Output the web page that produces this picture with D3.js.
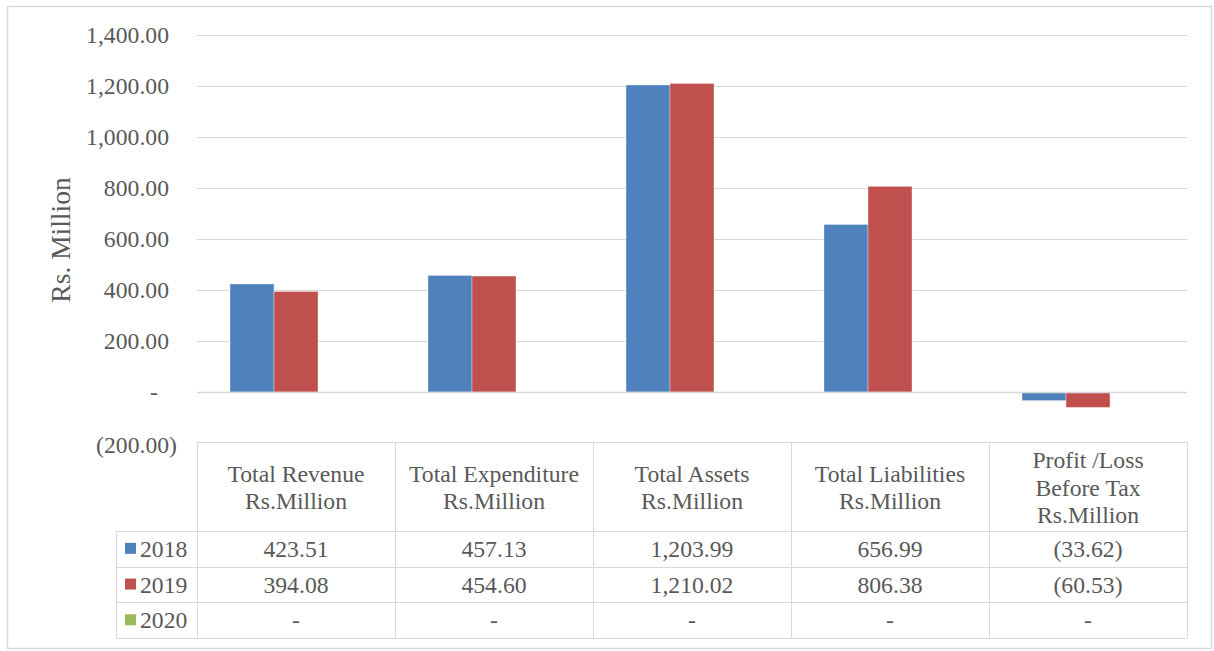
<!DOCTYPE html>
<html>
<head>
<meta charset="utf-8">
<script src="https://cdn.jsdelivr.net/npm/d3@7"></script>
<style>
html,body{margin:0;padding:0;background:#fff;}
svg{display:block;}
text{font-family:"Liberation Serif","Times New Roman",serif;fill:#595959;}
</style>
</head>
<body>
<svg id="chart" width="1214" height="651"></svg>
<script>
const categories = [
  ["Total Revenue","Rs.Million"],
  ["Total Expenditure","Rs.Million"],
  ["Total Assets","Rs.Million"],
  ["Total Liabilities","Rs.Million"],
  ["Profit /Loss","Before Tax","Rs.Million"]
];
const seriesNames = ["2018","2019","2020"];
const values2018 = [423.51, 457.13, 1203.99, 656.99, -33.62];
const values2019 = [394.08, 454.60, 1210.02, 806.38, -60.53];
const values2020 = [null, null, null, null, null];
const seriesColors = ["#4F81BD","#C0504D","#9BBB59"];
const yTicks = [-200, 0, 200, 400, 600, 800, 1000, 1200, 1400];

const series = [values2018, values2019, values2020];
const catKeys = categories.map(c => c.join(" "));

const svg = d3.select("#chart");
const fs = 23.7;

// outer border
svg.append("rect").attr("x",7.5).attr("y",6.5).attr("width",1204).attr("height",642)
  .attr("fill","#fff").attr("stroke","#d9d9d9").attr("stroke-width",1.5);

const left = 197, right = 1187;
const x0 = d3.scaleBand().domain(catKeys).range([left, right]).padding(0);
const x1 = d3.scaleBand().domain(seriesNames).range([0, x0.bandwidth()]).paddingInner(0).paddingOuter(0.75);
const y = d3.scaleLinear().domain([-200, 1400]).range([443, 35]);

// gridlines
svg.append("g").selectAll("line").data(yTicks.filter(t => t > -200 && t !== 0)).join("line")
  .attr("x1", left).attr("x2", right)
  .attr("y1", d => Math.round(y(d)) + 0.5).attr("y2", d => Math.round(y(d)) + 0.5)
  .attr("stroke", "#d9d9d9").attr("stroke-width", 1);

// y tick labels
const fmt = d3.format(",.2f");
svg.append("g").selectAll("text").data(yTicks).join("text")
  .attr("x", d => d < 0 ? 177 : (d === 0 ? 158 : 169))
  .attr("y", d => y(d) + (d < 0 ? 2 : 0))
  .attr("text-anchor","end").attr("dominant-baseline","central")
  .attr("font-size", fs)
  .text(d => d === 0 ? "-" : (d < 0 ? "(" + fmt(-d) + ")" : fmt(d)));

// axis title
svg.append("text").attr("transform","translate(60,240) rotate(-90)")
  .attr("text-anchor","middle").attr("dominant-baseline","central")
  .attr("font-size", 27.5).text("Rs. Million");

// bars
const barG = svg.append("g");
series.forEach((vals, si) => {
  barG.append("g").selectAll("rect")
    .data(vals.map((v, i) => ({v, i})).filter(d => d.v !== null))
    .join("rect")
    .attr("x", d => x0(catKeys[d.i]) + x1(seriesNames[si]))
    .attr("width", x1.bandwidth())
    .attr("y", d => y(Math.max(0, d.v)))
    .attr("height", d => Math.abs(y(d.v) - y(0)))
    .attr("fill", seriesColors[si])
    .attr("stroke", "#ffffff").attr("stroke-opacity", 0.35).attr("stroke-width", 1);
});

// zero axis line
svg.append("line").attr("x1", left).attr("x2", right)
  .attr("y1", Math.round(y(0)) + 0.5).attr("y2", Math.round(y(0)) + 0.5)
  .attr("stroke", "#d9d9d9").attr("stroke-width", 1.5);

// data table
const tTop = 442, hBottom = 531, rowH = 35.7, legLeft = 116;
const rowsY = seriesNames.map((s, i) => hBottom + i * rowH);
const tBottom = hBottom + 3 * rowH;
const tg = svg.append("g");
const lineC = "#d9d9d9";
tg.append("line").attr("x1", left).attr("x2", right).attr("y1", tTop + 0.5).attr("y2", tTop + 0.5).attr("stroke", lineC);
[hBottom, hBottom + rowH, hBottom + 2 * rowH, tBottom].forEach(yy => {
  tg.append("line").attr("x1", legLeft).attr("x2", right).attr("y1", Math.round(yy) + 0.5).attr("y2", Math.round(yy) + 0.5).attr("stroke", lineC);
});
tg.append("line").attr("x1", legLeft + 0.5).attr("x2", legLeft + 0.5).attr("y1", hBottom).attr("y2", tBottom).attr("stroke", lineC);
catKeys.forEach(k => {
  const xx = Math.round(x0(k)) + 0.5;
  tg.append("line").attr("x1", xx).attr("x2", xx).attr("y1", tTop).attr("y2", tBottom).attr("stroke", lineC);
});
tg.append("line").attr("x1", right + 0.5).attr("x2", right + 0.5).attr("y1", tTop).attr("y2", tBottom).attr("stroke", lineC);

// header text
const lineH = 27.5;
categories.forEach((lines, ci) => {
  const cx = x0(catKeys[ci]) + x0.bandwidth() / 2;
  const cy = (tTop + hBottom) / 2 + 1;
  const start = cy - (lines.length - 1) * lineH / 2;
  lines.forEach((ln, li) => {
    tg.append("text").attr("x", cx).attr("y", start + li * lineH)
      .attr("text-anchor","middle").attr("dominant-baseline","central")
      .attr("font-size", fs).text(ln);
  });
});

// rows
const vfmt = v => v === null ? "-" : (v < 0 ? "(" + fmt(-v) + ")" : fmt(v));
series.forEach((vals, si) => {
  const cy = rowsY[si] + rowH / 2;
  tg.append("rect").attr("x", 125).attr("y", cy - 6).attr("width", 11).attr("height", 11).attr("fill", seriesColors[si]);
  tg.append("text").attr("x", 140).attr("y", cy).attr("dominant-baseline","central")
    .attr("font-size", fs).text(seriesNames[si]);
  vals.forEach((v, i) => {
    tg.append("text").attr("x", x0(catKeys[i]) + x0.bandwidth() / 2).attr("y", cy)
      .attr("text-anchor","middle").attr("dominant-baseline","central")
      .attr("font-size", fs).text(vfmt(v));
  });
});
</script>
</body>
</html>
